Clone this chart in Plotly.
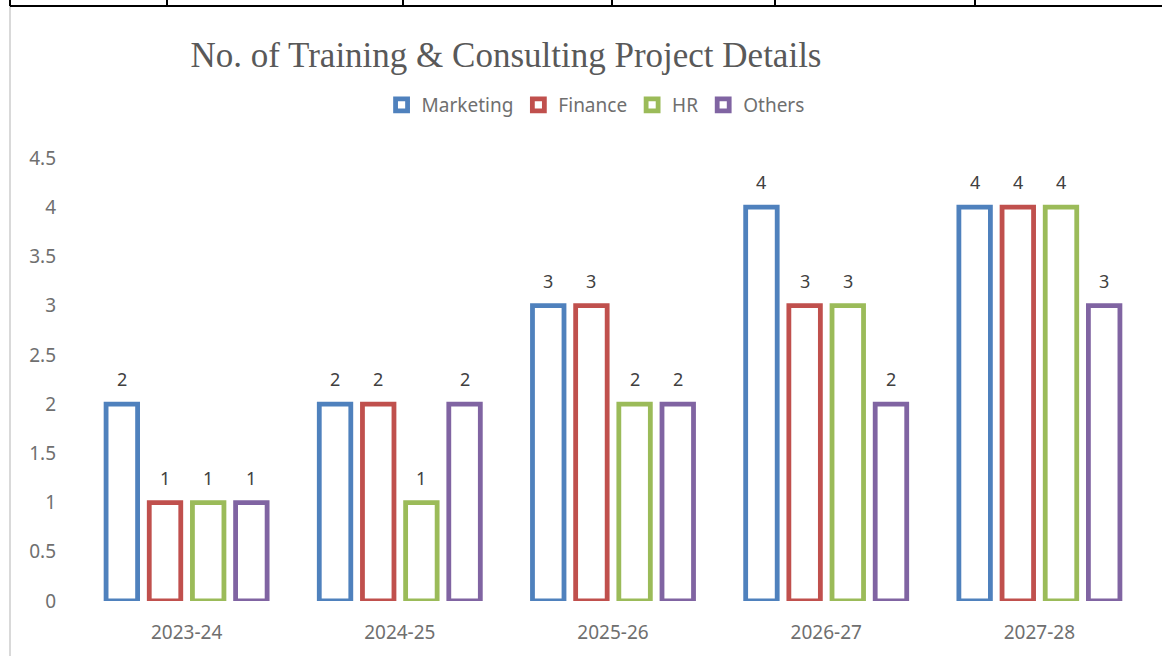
import plotly.graph_objects as go

categories = ["2023-24", "2024-25", "2025-26", "2026-27", "2027-28"]
marketing = [2, 2, 3, 4, 4]
finance = [1, 2, 3, 3, 4]
hr = [1, 1, 2, 3, 4]
others = [1, 2, 2, 2, 3]
y_ticks = [0, 0.5, 1, 1.5, 2, 2.5, 3, 3.5, 4, 4.5]
y_tick_text = ["0", "0.5", "1", "1.5", "2", "2.5", "3", "3.5", "4", "4.5"]

series = [
    ("Marketing", marketing, "#4F81BD"),
    ("Finance", finance, "#C0504D"),
    ("HR", hr, "#9BBB59"),
    ("Others", others, "#8064A2"),
]

FONT = "Noto Sans"
GRAY = "#595959"
AXGRAY = "#6F6F6F"
LBLGRAY = "#404040"
W, H = 1162, 656
L, R, T, B = 80, 16, 158, 55
PW, PH = W - L - R, H - T - B
BARGAP = 0.19

fig = go.Figure()
n = len(series)
slot = PW / len(categories) * (1 - BARGAP) / n
for k, (name, vals, col) in enumerate(series):
    fig.add_trace(go.Bar(
        name=name, x=categories, y=vals,
        marker=dict(color="white", line=dict(color=col, width=4.8)),
        cliponaxis=False, hoverinfo="skip",
    ))
    for c, v in zip(categories, vals):
        fig.add_annotation(x=c, y=v, text=str(v), showarrow=False,
                           xshift=(k - (n - 1) / 2) * slot, yshift=25,
                           yanchor="middle", xanchor="center",
                           font=dict(family=FONT, size=18, color=LBLGRAY))

fig.update_layout(
    width=W, height=H,
    paper_bgcolor="white", plot_bgcolor="white",
    margin=dict(l=L, r=R, t=T, b=B),
    barmode="group", bargap=BARGAP, bargroupgap=0.27,
    title=dict(text="No. of Training & Consulting Project Details",
               x=506 / W, xanchor="center", y=1 - 55 / H, yanchor="middle",
               font=dict(family="Liberation Serif", size=35, color=GRAY)),
    legend=dict(orientation="h", x=562 / W, xanchor="center",
                y=1 - 105 / H, yanchor="middle", yref="container",
                font=dict(family=FONT, size=19, color=AXGRAY),
                itemwidth=30, traceorder="normal"),
    showlegend=True,
)
fig.update_xaxes(showgrid=False, showline=False, ticks="",
                 tickfont=dict(family=FONT, size=19, color=AXGRAY),
                 ticklabelstandoff=18)
fig.update_yaxes(range=[0, 4.5], tickvals=y_ticks, ticktext=y_tick_text,
                 showgrid=False, zeroline=False, showline=False, ticks="",
                 tickfont=dict(family=FONT, size=19, color=AXGRAY),
                 ticklabelstandoff=23)

# surrounding page/table border lines
def px_x(p):
    return (p - L) / PW

def px_y(p):
    return (H - B - p) / PH

fig.add_shape(type="line", xref="paper", yref="paper", x0=px_x(10), x1=px_x(10),
              y0=px_y(H), y1=px_y(6), line=dict(color="#D9D9D9", width=2))
fig.add_shape(type="line", xref="paper", yref="paper", x0=px_x(10), x1=px_x(W),
              y0=px_y(6), y1=px_y(6), line=dict(color="black", width=2))
for p in [10, 167, 403, 612, 775, 975]:
    fig.add_shape(type="line", xref="paper", yref="paper", x0=px_x(p), x1=px_x(p),
                  y0=px_y(6), y1=px_y(0), line=dict(color="black", width=2))

fig.write_html("out.html", config={"displayModeBar": False},
               post_script="document.body.style.margin='0px';")
